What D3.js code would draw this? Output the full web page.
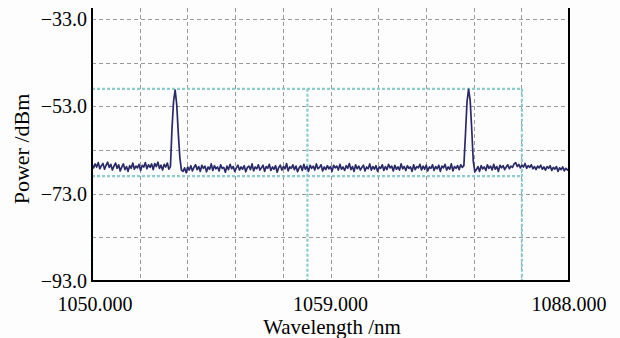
<!DOCTYPE html>
<html><head><meta charset="utf-8">
<script src="https://cdn.jsdelivr.net/npm/d3@7/dist/d3.min.js"></script>
<style>html,body{margin:0;padding:0;background:#fdfdfd;}svg{display:block;}
text{font-family:"Liberation Serif","Tinos","DejaVu Serif","Noto Serif",serif;}</style>
</head><body><svg id="c" width="620" height="338"></svg>
<script>
// ---- data ----
const wlStart = 1050, wlStep = 0.125;
const power = [
-66.4,-67.1,-66.2,-66.9,-65.9,-67.3,-66.6,-66.1,-67.4,-66.5,-65.8,-67.0,-66.3,-67.6,-66.7,-66.0,-67.2,-66.4,-67.8,-66.9,
-66.2,-67.5,-66.8,-67.9,-66.6,-67.2,-66.0,-67.4,-66.7,-67.1,-66.3,-67.7,-66.5,-66.9,-65.9,-67.3,-66.4,-67.0,-66.2,-67.5,
-66.1,-66.8,-65.8,-67.2,-66.5,-67.6,-66.3,-66.9,-66.0,-67.4,
-66.8,-58.0,-51.8,-49.3,-52.6,-59.2,-64.8,-67.6,
-67.9,-67.1,-68.2,-66.9,-67.6,-66.6,-67.8,-67.0,-66.4,-67.5,-66.8,-67.9,-66.5,-67.2,-66.7,-68.0,-66.9,-67.4,-66.2,-67.7,-66.6,-67.3,
-66.9,-67.8,-66.4,-67.2,-67.0,-68.1,-66.7,-67.5,-66.3,-67.3,-66.8,-67.9,-67.1,-66.5,-67.6,-66.9,-67.4,-66.6,-68.0,-67.0,
-66.7,-67.5,-66.2,-67.8,-66.9,-67.3,-66.4,-67.6,-67.1,-66.5,-67.9,-66.8,-67.2,-66.3,-67.7,-66.9,-67.4,-66.6,-68.1,-67.0,
-66.5,-67.6,-66.8,-67.3,-66.1,-67.8,-66.9,-67.2,-66.4,-67.5,-66.7,-68.0,-67.1,-66.6,-67.7,-66.3,-67.4,-66.8,-67.9,-66.5,
-67.2,-66.7,-67.6,-66.2,-67.3,-67.0,-66.4,-67.8,-66.9,-67.5,-66.6,-67.3,-66.8,-67.9,-66.5,-67.1,-66.7,-67.6,-66.3,-67.4,
-66.9,-67.7,-66.6,-67.2,-66.1,-67.5,-66.8,-67.9,-66.4,-67.3,-66.7,-67.6,-67.0,-66.5,-67.8,-66.9,-67.3,-66.2,-67.6,-66.8,
-67.4,-66.6,-67.9,-66.9,-67.2,-66.4,-67.7,-66.8,-67.5,-66.3,-67.1,-66.7,-67.8,-66.5,-67.4,-66.9,-67.6,-66.2,-67.3,-66.8,
-67.7,-66.6,-67.2,-66.9,-67.9,-66.4,-67.5,-66.8,-67.1,-66.3,-67.6,-66.7,-67.4,-66.5,-67.8,-66.9,-67.2,-66.4,-67.7,-66.8,
-67.3,-66.5,-67.9,-66.7,-67.1,-66.3,-67.6,-66.9,-67.4,-66.2,-67.8,-66.8,-67.2,-66.6,-67.5,-66.4,-67.0,
-66.6,-59.5,-52.0,-49.1,-51.6,-58.2,-65.6,-68.0,
-67.5,-66.8,-67.9,-66.6,-67.3,-66.9,-67.7,-66.4,-67.2,-66.7,-67.6,-66.3,-67.4,-66.8,-67.9,-66.5,-67.1,-66.6,-67.5,-66.9,
-66.4,-67.3,-66.7,-67.0,-66.2,-65.9,-66.8,-66.3,-67.1,-66.5,-66.9,-66.1,-67.2,-66.6,-67.0,-66.4,-67.3,-66.8,-67.5,-66.7,
-67.1,-66.5,-67.4,-66.9,-67.6,-66.8,-67.2,-66.6,-67.7,-67.0,-67.4,-66.8,-67.9,-67.1,-67.5,-66.9,-67.8,-67.2,-67.6,-67.3
];
const xDomain = [1050, 1088];
const yDomain = [-93, -30.5];
const xTickValues = [1050, 1069, 1088];
const xTickLabels = ["1050.000", "1059.000", "1088.000"];
const yTickValues = [-33, -53, -73, -93];
const yTickLabels = ["\u221233.0", "\u221253.0", "\u221273.0", "\u221293.0"];
const xGrid = [1053.8, 1057.6, 1061.4, 1065.2, 1069, 1072.8, 1076.6, 1080.4, 1084.2];
const yGrid = [-33, -43, -53, -63, -73, -83];
const markerX = [1050, 1067.16, 1084.25];
const markerY = [-49, -69];
const xTitle = "Wavelength /nm";
const yTitle = "Power /dBm";

// ---- drawing ----
const svg = d3.select("#c");
const L = 92, R = 569, T = 8, B = 281;
const x = d3.scaleLinear().domain(xDomain).range([L, R]);
const y = d3.scaleLinear().domain(yDomain).range([B, T]);

svg.append("rect").attr("width", 620).attr("height", 338).attr("fill", "#fdfdfd");

// grid
const grid = svg.append("g").attr("stroke", "#9a9a9a").attr("stroke-width", 1).attr("stroke-dasharray", "4,3");
grid.selectAll("line.v").data(xGrid).join("line")
  .attr("class", "v")
  .attr("x1", d => Math.round(x(d)) + 0.5).attr("x2", d => Math.round(x(d)) + 0.5)
  .attr("y1", T).attr("y2", B);
grid.selectAll("line.h").data(yGrid).join("line")
  .attr("class", "h")
  .attr("x1", L).attr("x2", R)
  .attr("y1", d => Math.round(y(d)) + 0.5).attr("y2", d => Math.round(y(d)) + 0.5);

// cyan markers
const cy = svg.append("g").attr("stroke", "#8ccbce").attr("stroke-width", 2.2).attr("stroke-dasharray", "3,2");
markerY.forEach(v => {
  cy.append("line").attr("x1", x(markerX[0])).attr("x2", x(markerX[2]))
    .attr("y1", y(v)).attr("y2", y(v));
});
markerX.forEach(v => {
  cy.append("line").attr("x1", x(v)).attr("x2", x(v))
    .attr("y1", y(markerY[0])).attr("y2", B);
});

// trace
const pts = power.map((p, i) => [wlStart + i * wlStep, p]);
svg.append("path").datum(pts)
  .attr("fill", "none").attr("stroke", "#2a2a68").attr("stroke-width", 1.7)
  .attr("stroke-linejoin", "round")
  .attr("d", d3.line().x(d => x(d[0])).y(d => y(d[1])));

// axes frame
const ax = svg.append("g").attr("stroke", "#000").attr("stroke-width", 2);
ax.append("line").attr("x1", L).attr("x2", L).attr("y1", T).attr("y2", B + 1);
ax.append("line").attr("x1", R).attr("x2", R).attr("y1", T).attr("y2", B + 1);
ax.append("line").attr("x1", L - 1).attr("x2", R + 1).attr("y1", B).attr("y2", B);

// tick labels
svg.append("g").selectAll("text").data(yTickValues).join("text")
  .attr("x", 87).attr("y", d => y(d)).attr("dy", "0.35em")
  .attr("text-anchor", "end").attr("font-size", 20).attr("fill", "#000")
  .text((d, i) => yTickLabels[i]);
svg.append("g").selectAll("text").data(xTickValues).join("text")
  .attr("x", (d, i) => x(d) + (i === 0 ? 3 : 0)).attr("y", 304).attr("dy", "0.35em")
  .attr("text-anchor", "middle").attr("font-size", 20).attr("fill", "#000")
  .text((d, i) => xTickLabels[i]);

// titles
svg.append("text").attr("x", 332).attr("y", 327).attr("dy", "0.35em")
  .attr("text-anchor", "middle").attr("font-size", 21).attr("fill", "#000")
  .text(xTitle);
svg.append("text").attr("transform", "translate(21,149) rotate(-90)").attr("dy", "0.35em")
  .attr("text-anchor", "middle").attr("font-size", 22).attr("fill", "#000")
  .text(yTitle);
</script></body></html>
